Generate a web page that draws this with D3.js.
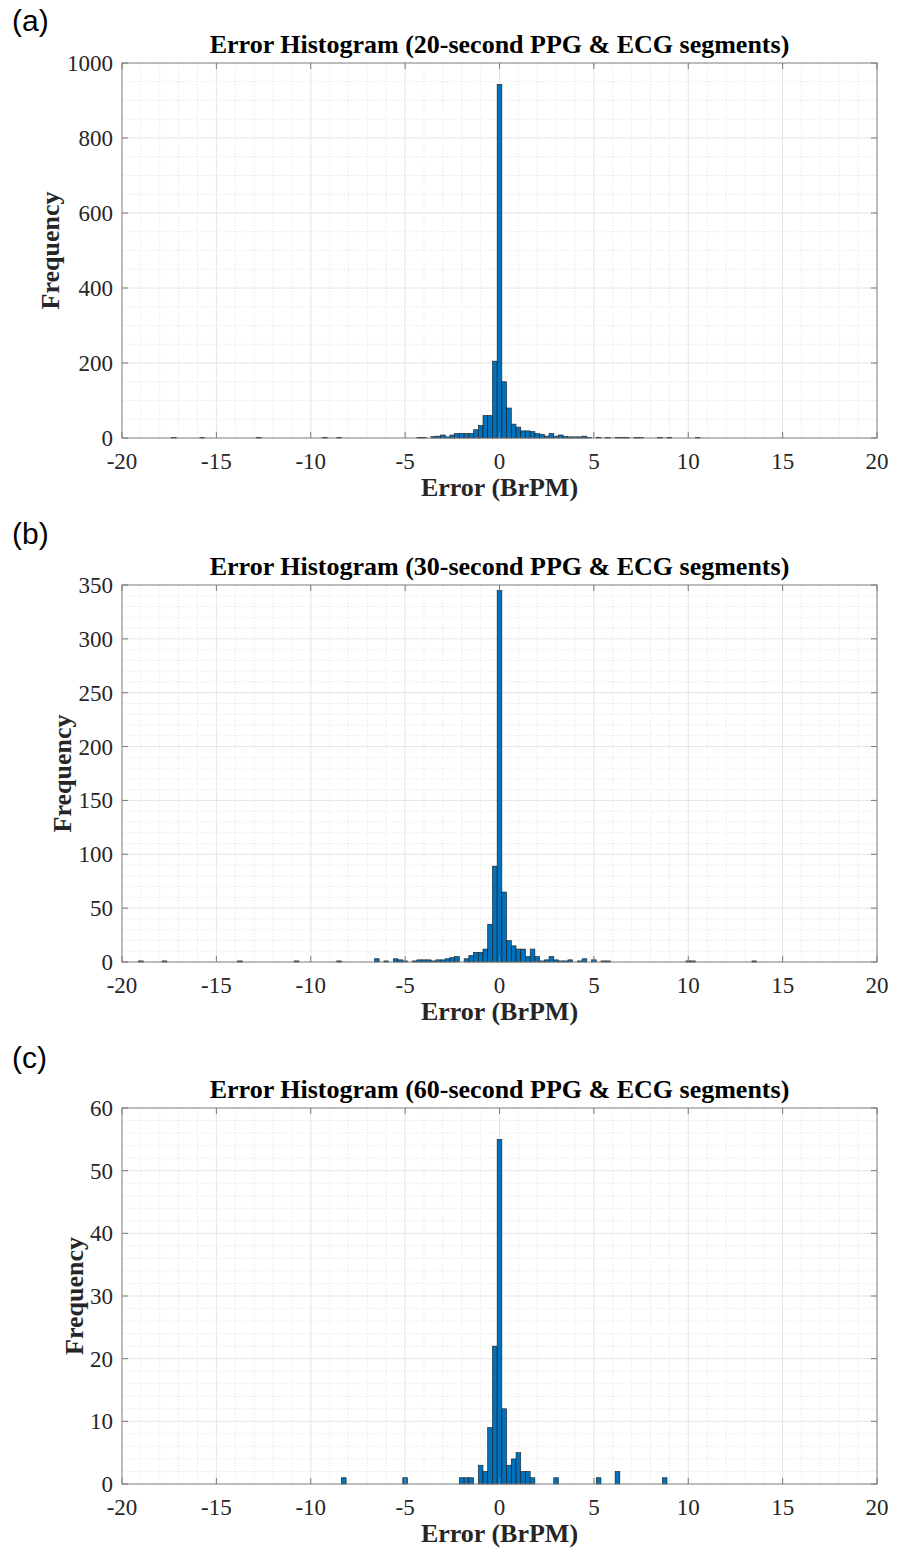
<!DOCTYPE html>
<html>
<head>
<meta charset="utf-8">
<script src="https://cdn.jsdelivr.net/npm/d3@7"></script>
<style>
  body { margin: 0; background: #fff; }
  svg { display: block; }
</style>
</head>
<body>
<div id="chart"></div>
<script>
// bin centres (BrPM) and counts, bin width 0.25
const binWidth = 0.25;

const errors20 = [-17.25, -15.75, -12.75, -9.25, -8.5, -4.25, -4, -3.5, -3.25, -3, -2.75, -2.5, -2.25, -2, -1.75, -1.5, -1.25, -1, -0.75, -0.5, -0.25, 0, 0.25, 0.5, 0.75, 1, 1.25, 1.5, 1.75, 2, 2.25, 2.5, 2.75, 3, 3.25, 3.5, 3.75, 4, 4.25, 4.5, 4.75, 5.25, 5.75, 6.25, 6.5, 6.75, 7.25, 7.5, 8.5, 9, 10.5];
const counts20 = [1, 1, 1, 1, 1, 1, 1, 4, 5, 8, 3, 8, 12, 12, 12, 12, 22, 33, 60, 60, 205, 943, 150, 80, 37, 29, 19, 19, 17, 12, 10, 5, 12, 5, 8, 4, 3, 3, 3, 5, 1, 2, 1, 1, 2, 1, 1, 1, 1, 1, 1];

const errors30 = [-19, -17.75, -13.75, -10.75, -8.5, -6.5, -6, -5.5, -5.25, -5, -4.5, -4.25, -4, -3.75, -3.5, -3.25, -3, -2.75, -2.5, -2.25, -1.75, -1.5, -1.25, -1, -0.75, -0.5, -0.25, 0, 0.25, 0.5, 0.75, 1, 1.25, 1.5, 1.75, 2, 2.25, 2.5, 2.75, 3, 3.25, 3.5, 3.75, 4.25, 4.5, 5, 5.5, 5.75, 10, 10.25, 13.5];
const counts30 = [1, 1, 1, 1, 1, 3, 1, 3, 2, 1, 1, 2, 2, 2, 1, 2, 2, 3, 4, 5, 3, 6, 9, 9, 12, 35, 89, 345, 65, 20, 15, 12, 12, 5, 12, 5, 1, 2, 5, 2, 1, 1, 2, 1, 3, 2, 1, 1, 1, 1, 1];

const errors60 = [-8.25, -5, -2, -1.75, -1.5, -1, -0.75, -0.5, -0.25, 0, 0.25, 0.5, 0.75, 1, 1.25, 1.5, 1.75, 3, 5.25, 6.25, 8.75];
const counts60 = [1, 1, 1, 1, 1, 3, 2, 9, 22, 55, 12, 3, 4, 5, 2, 2, 1, 1, 1, 2, 1];

const xTicks = [-20, -15, -10, -5, 0, 5, 10, 15, 20];
const yTicks20 = [0, 200, 400, 600, 800, 1000];
const yTicks30 = [0, 50, 100, 150, 200, 250, 300, 350];
const yTicks60 = [0, 10, 20, 30, 40, 50, 60];

const panels = [
    { tag: "(a)", title: "Error Histogram (20-second PPG & ECG segments)", errors: errors20, counts: counts20,
      yTicks: yTicks20, yMinor: 50, top: 63, bottom: 438, tagY: 31, ylabX: 50 },
    { tag: "(b)", title: "Error Histogram (30-second PPG & ECG segments)", errors: errors30, counts: counts30,
      yTicks: yTicks30, yMinor: 10, top: 585, bottom: 962, tagY: 544, ylabX: 62 },
    { tag: "(c)", title: "Error Histogram (60-second PPG & ECG segments)", errors: errors60, counts: counts60,
      yTicks: yTicks60, yMinor: 2, top: 1108, bottom: 1484, tagY: 1068, ylabX: 74 }
];

const W = 897, H = 1548;
const left = 122, right = 877;
const serif = "'Liberation Serif', 'Times New Roman', serif";

const svg = d3.select("#chart").append("svg")
    .attr("width", W)
    .attr("height", H);

panels.forEach(function (p) {
    const x = d3.scaleLinear().domain([-20, 20]).range([left, right]);
    const yMax = p.yTicks[p.yTicks.length - 1];
    const y = d3.scaleLinear().domain([0, yMax]).range([p.bottom, p.top]);
    const g = svg.append("g");

    // minor grid
    const xMinor = d3.range(-19, 20, 1).filter(function (v) { return v % 5 !== 0; });
    const yMinorVals = d3.range(p.yMinor, yMax, p.yMinor).filter(function (v) { return p.yTicks.indexOf(v) < 0; });
    g.selectAll(".xminor").data(xMinor).enter().append("line")
        .attr("x1", d => x(d)).attr("x2", d => x(d))
        .attr("y1", p.top).attr("y2", p.bottom)
        .attr("stroke", "#e6e6e6").attr("stroke-width", 0.8).attr("stroke-dasharray", "1.5,1.5");
    g.selectAll(".yminor").data(yMinorVals).enter().append("line")
        .attr("x1", left).attr("x2", right)
        .attr("y1", d => y(d)).attr("y2", d => y(d))
        .attr("stroke", "#e6e6e6").attr("stroke-width", 0.8).attr("stroke-dasharray", "1.5,1.5");

    // major grid
    g.selectAll(".xmajor").data(xTicks.slice(1, -1)).enter().append("line")
        .attr("x1", d => x(d)).attr("x2", d => x(d))
        .attr("y1", p.top).attr("y2", p.bottom)
        .attr("stroke", "#e4e4e4").attr("stroke-width", 1);
    g.selectAll(".ymajor").data(p.yTicks.slice(1, -1)).enter().append("line")
        .attr("x1", left).attr("x2", right)
        .attr("y1", d => y(d)).attr("y2", d => y(d))
        .attr("stroke", "#e4e4e4").attr("stroke-width", 1);

    // bars
    const bins = p.errors.map(function (e, i) { return { e: e, c: p.counts[i] }; });
    g.selectAll(".bar").data(bins).enter().append("rect")
        .attr("x", d => x(d.e - binWidth / 2))
        .attr("width", d => x(d.e + binWidth / 2) - x(d.e - binWidth / 2))
        .attr("y", d => y(d.c))
        .attr("height", d => p.bottom - y(d.c))
        .attr("fill", "#0072BD")
        .attr("stroke", "#1a1a1a")
        .attr("stroke-width", 0.6);

    // box
    g.append("rect")
        .attr("x", left).attr("y", p.top)
        .attr("width", right - left).attr("height", p.bottom - p.top)
        .attr("fill", "none").attr("stroke", "#7a7a7a").attr("stroke-width", 1);

    // inner ticks on all four sides
    const tl = 6;
    g.selectAll(".xt").data(xTicks).enter().append("path")
        .attr("d", d => "M" + x(d) + "," + p.bottom + "v" + (-tl) + "M" + x(d) + "," + p.top + "v" + tl)
        .attr("stroke", "#7a7a7a").attr("stroke-width", 1);
    g.selectAll(".yt").data(p.yTicks).enter().append("path")
        .attr("d", d => "M" + left + "," + y(d) + "h" + tl + "M" + right + "," + y(d) + "h" + (-tl))
        .attr("stroke", "#7a7a7a").attr("stroke-width", 1);

    // tick labels
    g.selectAll(".xl").data(xTicks).enter().append("text")
        .attr("x", d => x(d)).attr("y", p.bottom + 31)
        .attr("text-anchor", "middle")
        .attr("font-family", serif).attr("font-size", 23).attr("fill", "#262626")
        .text(d => d);
    g.selectAll(".yl").data(p.yTicks).enter().append("text")
        .attr("x", left - 9).attr("y", d => y(d))
        .attr("dy", "0.35em")
        .attr("text-anchor", "end")
        .attr("font-family", serif).attr("font-size", 23).attr("fill", "#262626")
        .text(d => d);

    // labels
    g.append("text")
        .attr("x", (left + right) / 2).attr("y", p.top - 10)
        .attr("text-anchor", "middle")
        .attr("font-family", serif).attr("font-size", 26).attr("font-weight", "bold").attr("fill", "#000")
        .text(p.title);
    g.append("text")
        .attr("x", (left + right) / 2).attr("y", p.bottom + 58)
        .attr("text-anchor", "middle")
        .attr("font-family", serif).attr("font-size", 26).attr("font-weight", "bold").attr("fill", "#262626")
        .text("Error (BrPM)");
    g.append("text")
        .attr("transform", "translate(" + p.ylabX + "," + ((p.top + p.bottom) / 2) + ") rotate(-90)")
        .attr("dy", "0.35em")
        .attr("text-anchor", "middle")
        .attr("font-family", serif).attr("font-size", 26).attr("font-weight", "bold").attr("fill", "#262626")
        .text("Frequency");
    g.append("text")
        .attr("x", 12).attr("y", p.tagY)
        .attr("font-family", "'Liberation Sans', Arial, sans-serif").attr("font-size", 30).attr("fill", "#000")
        .text(p.tag);
});
</script>
</body>
</html>
